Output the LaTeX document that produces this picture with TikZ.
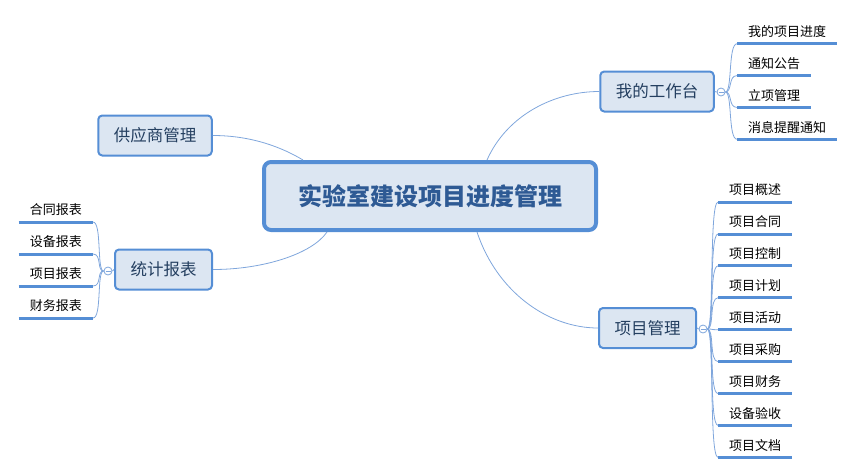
\documentclass[tikz,border=0pt]{standalone}
\usepackage{fontspec}
\setmainfont{Noto Sans CJK SC}
\usetikzlibrary{positioning}
\definecolor{boxline}{HTML}{558ED5}
\definecolor{boxfill}{HTML}{DCE6F2}
\definecolor{boxtext}{HTML}{243F60}
\definecolor{maintext}{HTML}{2E5A94}
\definecolor{linkline}{HTML}{7FA6DC}

\begin{document}
\begin{tikzpicture}[x=1pt, y=-1pt,
    central/.style={draw=boxline, fill=boxfill, line width=4pt, rounded corners=7pt,
      minimum width=332pt, minimum height=68pt, text=maintext,
      font=\fontsize{24}{24}\selectfont\bfseries},
    topic/.style={draw=boxline, fill=boxfill, line width=2pt, rounded corners=4pt,
      minimum height=40pt, inner xsep=15.5pt, text=boxtext,
      font=\fontsize{16.5}{16.5}\selectfont},
    leaf/.style={minimum height=24pt, inner xsep=11pt, inner ysep=0pt,
      font=\fontsize{13}{13}\selectfont},
    bar/.style={draw=boxline, line width=3pt},
    link/.style={draw=linkline, line width=0.8pt},
    collapse/.style={circle, draw=linkline, fill=white, line width=0.8pt,
      minimum size=8pt, inner sep=0pt,
      path picture={\draw[linkline, line width=0.8pt]
        ([xshift=-2.5pt]path picture bounding box.center) --
        ([xshift=2.5pt]path picture bounding box.center);}}]
  \useasboundingbox (0,0) rectangle (856,474);

  % main topic and branches
  \node[central] (main) at (430,196) {实验室建设项目进度管理};
  \node[topic] (desk) at (657,91.5) {我的工作台};
  \node[topic] (proj) at (647.5,328) {项目管理};
  \node[topic] (supp) at (155,135.5) {供应商管理};
  \node[topic] (stat) at (163.5,269.5) {统计报表};

  \draw[link] ([xshift=57pt]main.north) .. controls +(20,-45) and +(-45,0) .. (desk.west);
  \draw[link] ([xshift=47pt]main.south) .. controls +(20,60) and +(-50,0) .. (proj.west);
  \draw[link] (supp.east) .. controls +(40,0) and +(-20,-12) .. ([xshift=-127pt]main.north);
  \draw[link] (stat.east) .. controls +(50,0) and +(-15,22) .. ([xshift=-103pt]main.south);

  % collapse buttons
  \node[collapse] (deskc) at (721,92) {};
  \node[collapse] (projc) at (703,329) {};
  \node[collapse] (statc) at (108,271) {};
  \draw[link] (desk.east) -- (deskc.west);
  \draw[link] (proj.east) -- (projc.west);
  \draw[link] (stat.west) -- (statc.east);

  % leaves of 我的工作台
  \foreach \txt [count=\i] in {我的项目进度,通知公告,立项管理,消息提醒通知} {
    \node[leaf, anchor=south west] (desk\i) at (737,12+31.8*\i) {\txt};
    \draw[link] (deskc.east) .. controls +(7,0) and +(-9,0) .. (desk\i.south west);
    \draw[bar] (desk\i.south west) -- (desk\i.south east);
  }

  % leaves of 项目管理
  \foreach \txt [count=\i] in {项目概述,项目合同,项目控制,项目计划,项目活动,项目采购,项目财务,设备验收,项目文档} {
    \node[leaf, anchor=south west] (proj\i) at (718,170.2+31.9*\i) {\txt};
    \draw[link] (projc.east) .. controls +(7,0) and +(-9,0) .. (proj\i.south west);
    \draw[bar] (proj\i.south west) -- (proj\i.south east);
  }

  % leaves of 统计报表
  \foreach \txt [count=\i] in {合同报表,设备报表,项目报表,财务报表} {
    \node[leaf, anchor=south east] (stat\i) at (93,190+32*\i) {\txt};
    \draw[link] (statc.west) .. controls +(-7,0) and +(9,0) .. (stat\i.south east);
    \draw[bar] (stat\i.south west) -- (stat\i.south east);
  }
\end{tikzpicture}
\end{document}
